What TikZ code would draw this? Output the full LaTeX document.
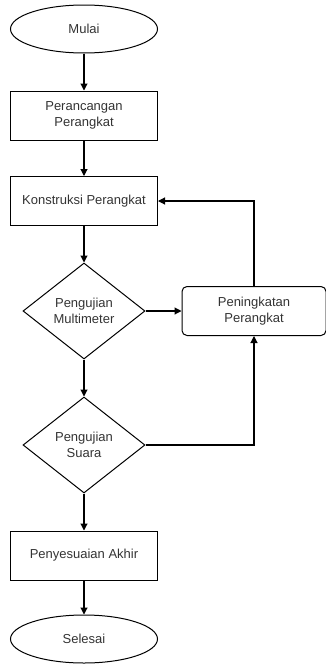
\documentclass[tikz,border=0pt]{standalone}
\usepackage{fontspec}
\setmainfont{Liberation Sans}
\usetikzlibrary{shapes.geometric,arrows.meta}
\begin{document}
\begin{tikzpicture}[x=1pt,y=-1pt,
  every node/.style={font=\fontsize{13}{16.5}\selectfont, text=black!80, align=center, inner sep=0pt},
  terminal/.style={draw=black, line width=1pt, ellipse, minimum width=147pt, minimum height=48pt},
  process/.style={draw=black, line width=1pt, rectangle, minimum width=147pt, minimum height=49pt},
  roundproc/.style={draw=black, line width=1pt, rectangle, rounded corners=5pt, minimum width=144pt, minimum height=49pt},
  decision/.style={draw=black, line width=1pt, diamond, shape aspect=1.27, minimum width=122pt, minimum height=96pt},
  flow/.style={draw=black, line width=1.1pt, -{Triangle[length=7pt,width=7pt]}}
]
\useasboundingbox (0,0) rectangle (326,664);
\node[terminal] (mulai) at (84,29) {Mulai};
\node[process] (rancang) at (84,115.5) {Perancangan\\Perangkat};
\node[process] (konstruksi) at (84,201) {Konstruksi Perangkat};
\node[decision] (multi) at (84,311) {Pengujian\\Multimeter};
\node[roundproc] (tingkat) at (254,311) {Peningkatan\\Perangkat};
\node[decision] (suara) at (84,445) {Pengujian\\Suara};
\node[process] (sesuai) at (84,555.5) {Penyesuaian Akhir};
\node[terminal] (selesai) at (84,639) {Selesai};

\draw[flow] (mulai) -- (rancang);
\draw[flow] (rancang) -- (konstruksi);
\draw[flow] (konstruksi) -- (multi);
\draw[flow] (multi) -- (suara);
\draw[flow] (suara) -- (sesuai);
\draw[flow] (sesuai) -- (selesai);
\draw[flow] (multi.east) -- (tingkat.west);
\draw[flow] (tingkat.north) |- (konstruksi.east);
\draw[flow] (suara.east) -| (tingkat.south);
\end{tikzpicture}
\end{document}
